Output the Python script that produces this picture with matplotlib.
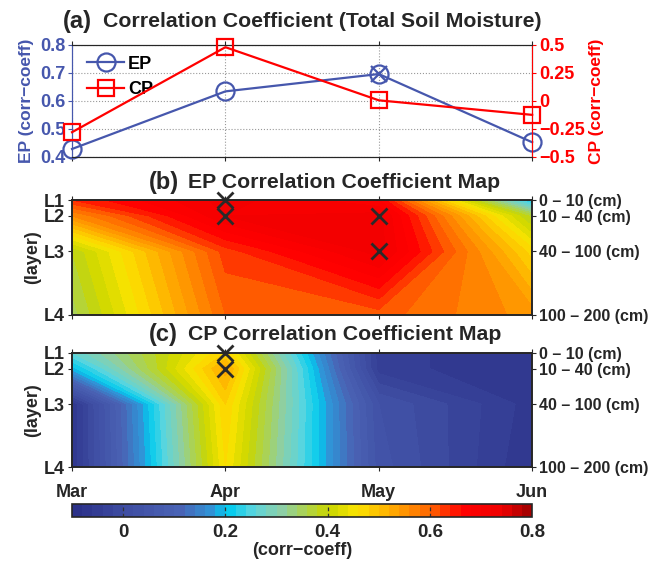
import numpy as np
import matplotlib
matplotlib.use("Agg")
import matplotlib.pyplot as plt
from matplotlib.colors import LinearSegmentedColormap, BoundaryNorm
from matplotlib.cm import ScalarMappable

plt.rcParams['font.family'] = ['Liberation Sans', 'DejaVu Sans']
plt.rcParams['font.weight'] = 'bold'

# ---- data
months = ['Mar', 'Apr', 'May', 'Jun']
layers = ['L1', 'L2', 'L3', 'L4']
depth_labels = ['0 \u2013 10 (cm)', '10 \u2013 40 (cm)', '40 \u2013 100 (cm)', '100 \u2013 200 (cm)']
layer_depth = [5, 25, 70, 150]   # mid depth of each layer (cm)

ep_total = [0.428, 0.634, 0.696, 0.452]
cp_total = [-0.28, 0.48, 0.005, -0.125]

# rows = layers L1..L4, cols = months Mar..Jun
ep_map = [[0.64, 0.73, 0.68, 0.20],
          [0.56, 0.72, 0.73, 0.37],
          [0.38, 0.63, 0.73, 0.47],
          [0.35, 0.60, 0.61, 0.55]]
cp_map = [[0.26, 0.48, -0.05, -0.08],
          [0.19, 0.53, -0.05, -0.08],
          [-0.08, 0.48, 0.02, -0.07],
          [-0.08, 0.46, 0.03, -0.08]]

ep_sig = [(1, 0), (1, 1), (2, 1), (2, 2)]   # (month idx, layer idx)
cp_sig = [(1, 0), (1, 1)]
ep_total_sig = [2]

EPC = '#4657ad'
CPC = '#ff0000'
TXT = '#262626'

cmap = LinearSegmentedColormap.from_list('corr', [
    (0.000, '#2b3189'),
    (0.111, '#3f4ea3'),
    (0.222, '#4a62b4'),
    (0.300, '#2f95d8'),
    (0.333, '#00cbef'),
    (0.390, '#5ad5de'),
    (0.450, '#8ccfa8'),
    (0.556, '#c9d600'),
    (0.620, '#fbe400'),
    (0.700, '#ffa800'),
    (0.778, '#ff6a00'),
    (0.830, '#ff1e00'),
    (0.860, '#ff0000'),
    (0.940, '#f00000'),
    (1.000, '#a80000')])
levels = np.arange(-0.1, 0.8001, 0.02)

fig = plt.figure(figsize=(6.49, 5.62), dpi=100)
L, W = 0.111, 0.709

# ---- (a) line plot
ax = fig.add_axes([L, 0.721, W, 0.199])
x = np.arange(len(months))
ax.plot(x, ep_total, '-o', color=EPC, lw=1.6, ms=13, mfc='none', mew=1.6, clip_on=False, label='EP', zorder=5)
ax.plot([x[i] for i in ep_total_sig], [ep_total[i] for i in ep_total_sig], 'x', color=EPC, ms=12, mew=1.6, clip_on=False, zorder=6)
ax.set_ylim(0.4, 0.8)
ax.set_yticks([0.4, 0.5, 0.6, 0.7, 0.8])
ax.set_xlim(0, 3)
ax.set_xticks(x)
ax.set_xticklabels([])
ax.tick_params(axis='y', colors=EPC, labelsize=13, length=3, pad=2)
ax.tick_params(axis='x', length=3, color=TXT, top=True)
ax.set_ylabel('EP (corr\u2212coeff)', color=EPC, fontsize=12.5, fontweight='bold', labelpad=4)
ax.grid(True, ls=':', color='#999999', lw=0.8)
ax.spines['left'].set_color(EPC)
ax.spines['bottom'].set_color(TXT)
ax.spines['top'].set_color(TXT)

ax2 = ax.twinx()
ax2.plot(x, cp_total, '-s', color=CPC, lw=1.6, ms=11.5, mfc='none', mew=1.6, clip_on=False, label='CP', zorder=5)
ax2.set_ylim(-0.5, 0.5)
ax2.set_yticks([-0.5, -0.25, 0, 0.25, 0.5])
ax2.set_yticklabels(['\u22120.5', '\u22120.25', '0', '0.25', '0.5'])
ax2.tick_params(axis='y', colors=CPC, labelsize=13, length=3, pad=2)
ax2.set_ylabel('CP (corr\u2212coeff)', color=CPC, fontsize=12.5, fontweight='bold', labelpad=3)
ax2.spines['right'].set_color(CPC)
ax2.spines['left'].set_color(EPC)
ax2.spines['top'].set_color(TXT)
ax2.spines['bottom'].set_color(TXT)

h1, l1 = ax.get_legend_handles_labels()
h2, l2 = ax2.get_legend_handles_labels()
ax.legend(h1 + h2, l1 + l2, loc='upper left', frameon=False, fontsize=13,
          handlelength=2.0, borderaxespad=0.2, labelspacing=0.45, handletextpad=0.25,
          bbox_to_anchor=(0.01, 1.0))
fig.text(63 / 649, 0.962, '(a)', fontsize=17, fontweight='bold', color=TXT, ha='left', va='center')
fig.text(103 / 649, 0.962, 'Correlation Coefficient (Total Soil Moisture)', fontsize=15.3,
         fontweight='bold', color=TXT, ha='left', va='center')


def draw_map(rect, data, sig, letter, title, show_x, ty):
    axm = fig.add_axes(rect)
    X, Y = np.meshgrid(x, layer_depth)
    axm.contourf(X, Y, np.array(data), levels=levels, cmap=cmap, extend='both')
    axm.set_ylim(layer_depth[-1], layer_depth[0])
    axm.set_xlim(0, 3)
    axm.set_yticks(layer_depth)
    axm.set_yticklabels(layers)
    axm.set_xticks(x)
    axm.set_xticklabels(months if show_x else [])
    axm.tick_params(axis='both', labelsize=13, colors=TXT, length=3, top=True, direction='out', pad=2)
    axm.tick_params(axis='x', pad=9)
    axm.set_ylabel('(layer)', fontsize=13, fontweight='bold', color=TXT, labelpad=2)
    axr = axm.twinx()
    axr.set_ylim(layer_depth[-1], layer_depth[0])
    axr.set_yticks(layer_depth)
    axr.set_yticklabels(depth_labels)
    axr.tick_params(axis='y', labelsize=11.5, colors=TXT, length=3, pad=2)
    for a in (axm, axr):
        for s in a.spines.values():
            s.set_color(TXT)
            s.set_linewidth(1.2)
    for i, j in sig:
        axm.plot(x[i], layer_depth[j], 'x', color='#2a2a2a', ms=11, mew=2.0, clip_on=False, zorder=10)
    fig.text(149 / 649, ty, letter, fontsize=17, fontweight='bold', color=TXT, ha='left', va='center')
    fig.text(188 / 649, ty, title, fontsize=15.3, fontweight='bold', color=TXT, ha='left', va='center')


draw_map([L, 0.440, W, 0.204], ep_map, ep_sig, '(b)', 'EP Correlation Coefficient Map', False, 0.676)
draw_map([L, 0.169, W, 0.203], cp_map, cp_sig, '(c)', 'CP Correlation Coefficient Map', True, 0.404)

# ---- colorbar
cax = fig.add_axes([L, 0.080, W, 0.024])
sm = ScalarMappable(norm=BoundaryNorm(levels, cmap.N), cmap=cmap)
cb = fig.colorbar(sm, cax=cax, orientation='horizontal', boundaries=levels)
cb.set_ticks([0, 0.2, 0.4, 0.6, 0.8])
cb.ax.set_xticklabels(['0', '0.2', '0.4', '0.6', '0.8'])
cb.ax.minorticks_off()
cb.ax.tick_params(labelsize=13.5, colors=TXT, length=0, pad=5)
for t in [0, 0.2, 0.4, 0.6]:
    cb.ax.axvline(t, color='#333333', lw=0.9, ls=(0, (3, 2)))
cb.outline.set_color(TXT)
cb.outline.set_linewidth(1.2)
cb.set_label('(corr\u2212coeff)', fontsize=13, fontweight='bold', color=TXT, labelpad=1)

fig.savefig('out.png', dpi=100)
